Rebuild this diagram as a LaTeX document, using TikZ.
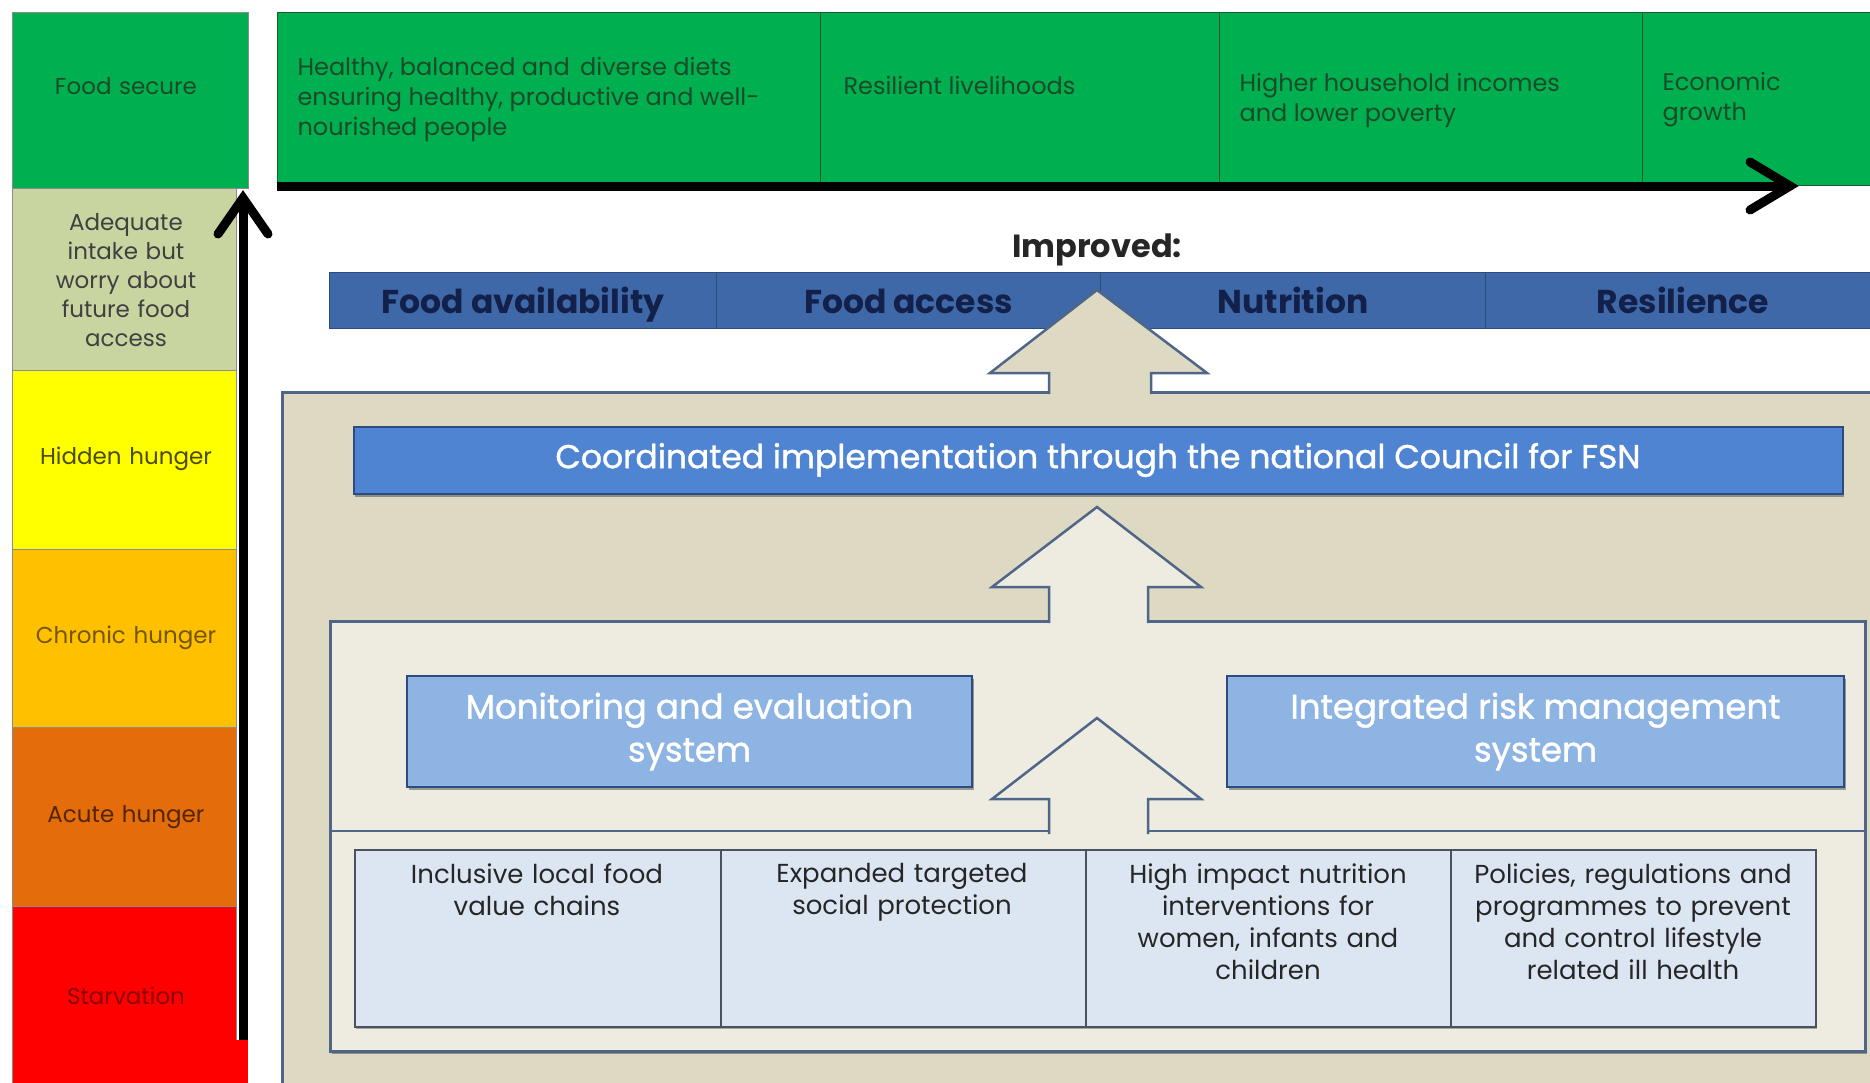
\documentclass[tikz,border=0pt]{standalone}
\usepackage{fontspec}
\setmainfont{Poppins}
\newfontfamily\popmed{Poppins}[FakeBold=1.2]
\usetikzlibrary{shadows}
\definecolor{cgreen}{HTML}{00B050}
\definecolor{cgreentxt}{HTML}{1C4A28}
\definecolor{cgreenline}{HTML}{1E5A30}
\definecolor{cadeq}{HTML}{C8D5A0}
\definecolor{cyel}{HTML}{FFFF00}
\definecolor{cchron}{HTML}{FFC000}
\definecolor{cacute}{HTML}{E46C0A}
\definecolor{cred}{HTML}{FF0000}
\definecolor{cbar}{HTML}{3E68A8}
\definecolor{cbarline}{HTML}{2C4C80}
\definecolor{cbartxt}{HTML}{12204A}
\definecolor{ctan}{HTML}{DDD9C3}
\definecolor{ccream}{HTML}{EEECE1}
\definecolor{cslate}{HTML}{4F6688}
\definecolor{ccoord}{HTML}{4F84D2}
\definecolor{cmon}{HTML}{8DB4E2}
\definecolor{ctable}{HTML}{DCE6F2}
\definecolor{ctableline}{HTML}{4A5262}
\tikzset{
  softshadow/.style={drop shadow={shadow xshift=1.5pt, shadow yshift=-3pt, opacity=0.35, fill=black}},
  band/.style={anchor=north west, inner sep=0pt, draw=black!45, line width=0.8pt},
  bandtxt/.style={font=\fontsize{23}{29}\selectfont, align=center, text width=220pt},
  gcell/.style={anchor=north west, inner sep=0pt, fill=cgreen, draw=cgreenline, line width=1pt},
  gtxt/.style={anchor=west, align=left, text=cgreentxt, font=\fontsize{24}{30}\selectfont},
  bcell/.style={anchor=north west, inner sep=0pt, fill=cbar, draw=cbarline, line width=1pt,
    font=\bfseries\fontsize{33}{36}\selectfont, text=cbartxt, text height=28pt, text depth=3pt},
  blkline/.style={line width=9pt, black},
  blkhead/.style={line width=9pt, black, line cap=round, line join=miter},
  blockarrow/.style={draw=cslate, line width=2.5pt, line join=miter},
  sysbox/.style={inner sep=0pt, fill=cmon, draw=cbarline, line width=2pt, text=white,
    font=\popmed\fontsize{34}{43}\selectfont, align=center, softshadow},
  tcell/.style={anchor=north west, inner sep=0pt, fill=ctable, draw=ctableline, line width=1.5pt},
  ttxt/.style={anchor=north, align=center, text width=350pt, text=black!85,
    font=\fontsize{26}{32}\selectfont}
}
\begin{document}
\begin{tikzpicture}[x=1pt,y=-1pt]
\useasboundingbox (0,0) rectangle (1870,1082);
\clip (0,0) rectangle (1870,1082);
\fill[white] (0,0) rectangle (1870,1082);

% ---------- left scale ----------
\node[band, fill=cgreen, minimum width=236pt, minimum height=176pt] (b1) at (12,12) {};
\node[band, fill=cadeq, minimum width=224pt, minimum height=182pt] (b2) at (12,188) {};
\node[band, fill=cyel, minimum width=224pt, minimum height=179pt] (b3) at (12,370) {};
\node[band, fill=cchron, minimum width=224pt, minimum height=178pt] (b4) at (12,549) {};
\node[band, fill=cacute, minimum width=224pt, minimum height=179pt] (b5) at (12,727) {};
\node[band, fill=cred, minimum width=224pt, minimum height=180pt] (b6) at (12,906) {};
\fill[cred] (236,1040) rectangle (248,1086);

\node[bandtxt, text=cgreentxt] (t1) at (126,86) {Food secure};
\node[bandtxt, text=black!75] (t2) at (126,280) {Adequate\\intake but\\worry about\\future food\\access};
\node[bandtxt, text=black!70!cyel] (t3) at (126,459) {Hidden hunger};
\node[bandtxt, text=black!55!cchron] (t4) at (126,638) {Chronic hunger};
\node[bandtxt, text=black!65!cacute] (t5) at (126,817) {Acute hunger};
\node[bandtxt, text=black!45!cred] (t6) at (126,996) {Starvation};

\coordinate (vb) at (243,1040);
\coordinate (vt) at (243,198);
\draw[blkline] (vb) -- (vt);
\draw[blkhead] (vt) ++(-25,36) -- (vt) -- ++(25,36);

% ---------- top green outcomes ----------
\node[gcell, minimum width=543pt, minimum height=173pt] (g1) at (277,12) {};
\node[gcell, minimum width=399pt, minimum height=173pt] (g2) at (820,12) {};
\node[gcell, minimum width=423pt, minimum height=173pt] (g3) at (1219,12) {};
\node[gcell, minimum width=240pt, minimum height=173pt] (g4) at (1642,12) {};
\node[gtxt] (gt1) at (294,99) {Healthy, balanced and\, diverse diets\\ensuring healthy, productive and well-\\nourished people};
\node[gtxt] (gt2) at (840,85) {Resilient livelihoods};
\node[gtxt] (gt3) at (1236,100) {Higher household incomes\\and lower poverty};
\node[gtxt] (gt4) at (1659,100) {Economic\\growth};

\coordinate (hl) at (277,186);
\coordinate (hr) at (1790,186);
\draw[blkline] (hl) -- (hr);
\draw[blkhead] (hr) ++(-40,-24) -- (hr) -- ++(-40,24);

% ---------- improved ----------
\node[font=\bfseries\fontsize{32}{36}\selectfont, text=black!85] (imp) at (1097,250) {Improved:};
\node[bcell, minimum width=387pt, minimum height=56pt] (c1) at (329,272) {Food availability};
\node[bcell, minimum width=384pt, minimum height=56pt] (c2) at (716,272) {Food access};
\node[bcell, minimum width=385pt, minimum height=56pt] (c3) at (1100,272) {Nutrition};
\node[bcell, minimum width=395pt, minimum height=56pt] (c4) at (1485,272) {Resilience};

% ---------- outer box ----------
\node[anchor=north west, inner sep=0pt, fill=ctan, draw=cslate, line width=2.5pt,
  minimum width=1600pt, minimum height=700pt] (outer) at (281,391) {};
\filldraw[blockarrow, fill=ctan] (1049,394) -- (1049,373) -- (990,373) -- (1097,290)
  -- (1207,373) -- (1151,373) -- (1151,394);

\node[inner sep=0pt, fill=ccoord, draw=cbarline, line width=2pt, minimum width=1489pt,
  minimum height=67pt, text=white, font=\popmed\fontsize{33}{36}\selectfont, softshadow] (coord) at (1098,460)
  {Coordinated implementation through the national Council for FSN};

% ---------- inner box ----------
\node[anchor=north west, inner sep=0pt, fill=ccream, draw=cslate, line width=2.5pt,
  minimum width=1535pt, minimum height=430pt, softshadow] (inner) at (329,620) {};
\draw[cslate, line width=2.5pt] (inner.west |- 0,831) -- (inner.east |- 0,831);
\filldraw[blockarrow, fill=ccream] (1049,623) -- (1049,587) -- (992,587) -- (1097,507)
  -- (1201,587) -- (1148,587) -- (1148,623);
\filldraw[blockarrow, fill=ccream] (1049,834) -- (1049,799) -- (992,799) -- (1097,718)
  -- (1201,799) -- (1148,799) -- (1148,834);

\node[sysbox, minimum width=565pt, minimum height=111pt] (mon) at (689.5,731.5)
  {Monitoring and evaluation\\system};
\node[sysbox, minimum width=617pt, minimum height=111pt] (irm) at (1535.5,731.5)
  {Integrated risk management\\system};

% ---------- table ----------
\fill[black, opacity=0.3] (355.5,852) rectangle (1816.5,1029);
\node[tcell, minimum width=366pt, minimum height=177pt] (p1) at (354,849) {};
\node[tcell, minimum width=365pt, minimum height=177pt] (p2) at (720,849) {};
\node[tcell, minimum width=365pt, minimum height=177pt] (p3) at (1085,849) {};
\node[tcell, minimum width=365pt, minimum height=177pt] (p4) at (1450,849) {};
\node[ttxt] (pt1) at (537,860) {Inclusive local food\\value chains};
\node[ttxt] (pt2) at (902,860) {Expanded targeted\\social protection};
\node[ttxt] (pt3) at (1268,860) {High impact nutrition\\interventions for\\women, infants and\\children};
\node[ttxt] (pt4) at (1633,860) {Policies, regulations and\\programmes to prevent\\and control lifestyle\\related ill health};
\end{tikzpicture}
\end{document}
